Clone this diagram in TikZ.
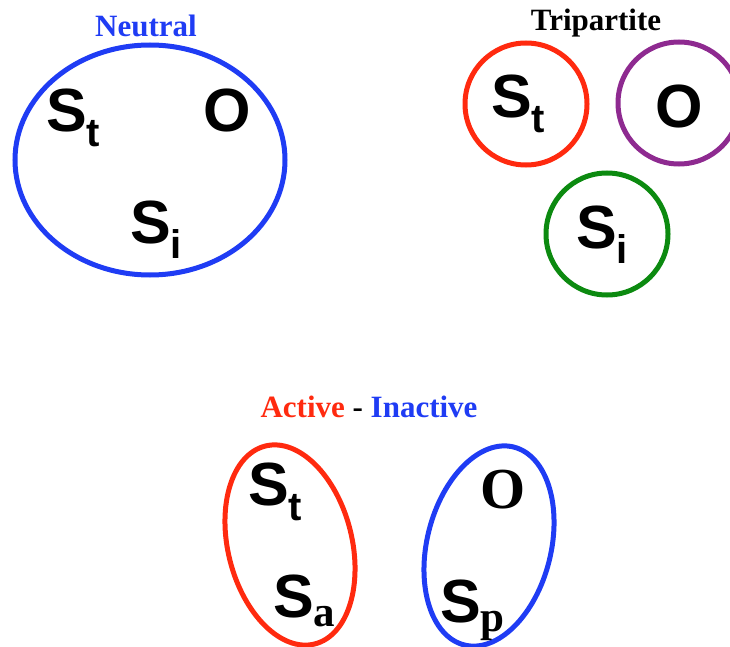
\documentclass[tikz,border=0pt]{standalone}
\usepackage{xcolor}
\usepackage{fontspec}
\setmainfont{Liberation Serif}
\newfontfamily\helvfont{Liberation Sans}
\usetikzlibrary{positioning}
\definecolor{ringblue}{HTML}{1F3CF4}
\definecolor{ringred}{HTML}{FF2A0F}
\definecolor{ringpurple}{HTML}{8E2A90}
\definecolor{ringgreen}{HTML}{0C8A10}
\newcommand{\bigS}[1]{{\helvfont\bfseries\fontsize{61}{61}\selectfont S\raisebox{-15pt}{\fontsize{40}{40}\selectfont #1}}}
\newcommand{\bigSr}[1]{{\helvfont\bfseries\fontsize{61}{61}\selectfont S\raisebox{-9pt}{\rmfamily\bfseries\fontsize{43}{43}\selectfont #1}}}
\newcommand{\bigO}{{\helvfont\bfseries\fontsize{61}{61}\selectfont O}}

\begin{document}
\begin{tikzpicture}[
    x=1pt, y=1pt,
    ring/.style={line width=5pt},
    oval/.style={line width=5pt},
    lbl/.style={inner sep=0pt, anchor=base west},
    title/.style={inner sep=0pt, anchor=base, font=\bfseries\fontsize{31}{31}\selectfont},
]
\useasboundingbox (0,0) rectangle (730,-647);

\node[title, text=ringblue] (neutral) at (146,-37) {Neutral};
\draw[ring, ringblue] (150,-160) ellipse [x radius=135pt, y radius=115pt];
\node[lbl] (nst) at (46,-132) {\bigS{t}};
\node[lbl] (no) at (203,-132) {\bigO};
\node[lbl] (nsi) at (130,-243) {\bigS{i}};

\node[title] (tripartite) at (596,-31) {Tripartite};
\draw[ring, ringred] (526,-104) circle [radius=61pt];
\draw[ring, ringpurple] (679,-103) circle [radius=61pt];
\draw[ring, ringgreen] (607,-234) circle [radius=61pt];
\node[lbl] (tst) at (491,-118) {\bigS{t}};
\node[lbl] (to) at (655,-128) {\bigO};
\node[lbl] (tsi) at (576,-248) {\bigS{i}};

\node[title] (actin) at (369,-417) {\textcolor{ringred}{Active} - \textcolor{ringblue}{Inactive}};
\draw[oval, ringred, rotate around={14:(290,-545)}] (290,-545) ellipse [x radius=62pt, y radius=102pt];
\draw[oval, ringblue, rotate around={-14:(489,-546)}] (489,-546) ellipse [x radius=62pt, y radius=102pt];
\node[lbl] (ast) at (248,-505) {\bigS{t}};
\node[lbl] (asa) at (273,-617) {\bigSr{a}};
\node[lbl, font=\bfseries\fontsize{58}{58}\selectfont] (io) at (480,-508) {O};
\node[lbl] (isp) at (440,-622) {\bigSr{p}};
\end{tikzpicture}
\end{document}
